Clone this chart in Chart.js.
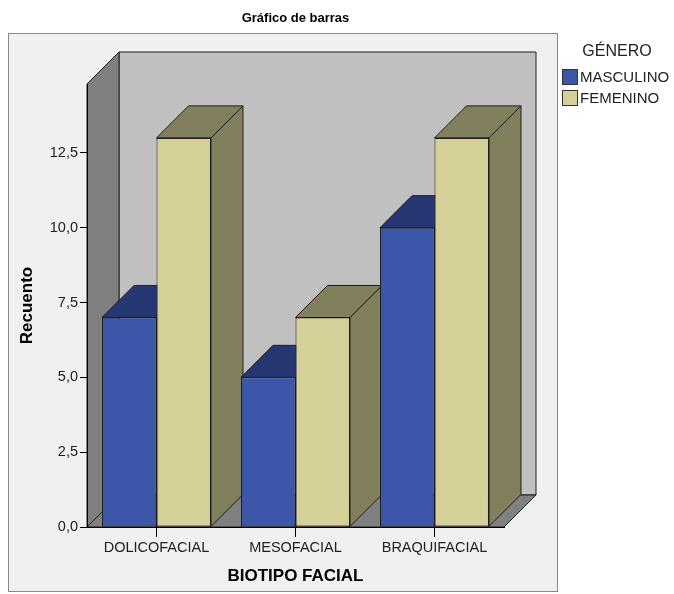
<!DOCTYPE html>
<html>
<head>
<meta charset="utf-8">
<script src="https://cdn.jsdelivr.net/npm/chart.js@4"></script>
<style>
  html, body { margin: 0; padding: 0; background: #fff; }
  canvas { display: block; }
</style>
</head>
<body>
<canvas id="grafico" width="674" height="594"></canvas>
<script>
// datos del gráfico
const categorias = ['DOLICOFACIAL', 'MESOFACIAL', 'BRAQUIFACIAL'];
const masculino = [7, 5, 10];
const femenino = [13, 7, 13];
const ticksY = [0, 2.5, 5, 7.5, 10, 12.5];
const maxY = 14.8;
const tituloLeyenda = 'GÉNERO';

// profundidad del efecto 3D (px)
const DX = 32, DY = 32;
const fuente = '"Liberation Sans", Arial, sans-serif';
Chart.defaults.font.family = fuente;

// colores de tapa y lateral para cada serie
const caras = [
  { tapa: '#263773', lado: '#263773' },
  { tapa: '#827f5c', lado: '#827f5c' }
];

function poligono(ctx, pts, relleno) {
  ctx.beginPath();
  ctx.moveTo(pts[0][0], pts[0][1]);
  for (let i = 1; i < pts.length; i++) ctx.lineTo(pts[i][0], pts[i][1]);
  ctx.closePath();
  ctx.fillStyle = relleno;
  ctx.fill();
  ctx.strokeStyle = '#1e1e1e';
  ctx.lineWidth = 1;
  ctx.stroke();
}

// fondo, marco y paredes
const fondo3d = {
  id: 'fondo3d',
  beforeDraw(chart) {
    const { ctx, chartArea: a } = chart;
    ctx.save();
    ctx.fillStyle = '#fff';
    ctx.fillRect(0, 0, chart.width, chart.height);
    ctx.fillStyle = '#f0f0f0';
    ctx.fillRect(8.5, 33.5, 549, 558);
    ctx.strokeStyle = '#8a8a8a';
    ctx.lineWidth = 1;
    ctx.strokeRect(8.5, 33.5, 549, 558);

    // pared del fondo
    poligono(ctx, [[a.left + DX, a.top - DY], [a.right + DX, a.top - DY],
      [a.right + DX, a.bottom - DY], [a.left + DX, a.bottom - DY]], '#c0c0c0');
    // pared izquierda
    poligono(ctx, [[a.left, a.top], [a.left + DX, a.top - DY],
      [a.left + DX, a.bottom - DY], [a.left, a.bottom]], '#808080');
    // suelo
    poligono(ctx, [[a.left, a.bottom], [a.left + DX, a.bottom - DY],
      [a.right + DX, a.bottom - DY], [a.right, a.bottom]], '#808080');
    ctx.restore();
  },
  // laterales y tapas de las barras, de izquierda a derecha
  beforeDatasetsDraw(chart) {
    const ctx = chart.ctx;
    ctx.save();
    for (let i = 0; i < chart.data.labels.length; i++) {
      chart.data.datasets.forEach(function(ds, d) {
        const barra = chart.getDatasetMeta(d).data[i];
        const { x, y, base, width } = barra.getProps(['x', 'y', 'base', 'width'], true);
        const l = x - width / 2, r = x + width / 2;
        poligono(ctx, [[r, y], [r + DX, y - DY], [r + DX, base - DY], [r, base]], caras[d].lado);
        poligono(ctx, [[l, y], [l + DX, y - DY], [r + DX, y - DY], [r, y]], caras[d].tapa);
      });
    }
    ctx.restore();
  }
};

// leyenda a la derecha
const leyenda = {
  id: 'leyenda',
  afterDraw(chart) {
    const ctx = chart.ctx;
    ctx.save();
    ctx.textBaseline = 'middle';
    ctx.fillStyle = '#222';
    ctx.textAlign = 'center';
    ctx.font = '16px ' + fuente;
    ctx.fillText(tituloLeyenda, 617, 52);
    ctx.textAlign = 'left';
    ctx.font = '15px ' + fuente;
    chart.data.datasets.forEach(function(ds, d) {
      const y = 69 + d * 21;
      ctx.fillStyle = ds.backgroundColor;
      ctx.fillRect(562, y, 16, 16);
      ctx.strokeStyle = '#333';
      ctx.lineWidth = 1;
      ctx.strokeRect(562.5, y + 0.5, 15, 15);
      ctx.fillStyle = '#222';
      ctx.fillText(ds.label, 580, y + 9);
    });
    ctx.restore();
  }
};

new Chart(document.getElementById('grafico'), {
  type: 'bar',
  data: {
    labels: categorias,
    datasets: [
      { label: 'MASCULINO', data: masculino, backgroundColor: '#3c56aa',
        borderColor: '#1e1e1e', borderWidth: 1, borderSkipped: false },
      { label: 'FEMENINO', data: femenino, backgroundColor: '#d5cf98',
        borderColor: '#1e1e1e', borderWidth: 1, borderSkipped: false }
    ]
  },
  options: {
    responsive: false,
    animation: false,
    devicePixelRatio: 1,
    categoryPercentage: 0.784,
    barPercentage: 1,
    layout: { padding: { left: 0, right: 170, top: 0, bottom: 0 } },
    plugins: {
      legend: { display: false },
      tooltip: { enabled: false },
      title: {
        display: true,
        text: 'Gráfico de barras',
        fullSize: false,
        color: '#000',
        font: { size: 13, weight: 'bold' },
        padding: { top: 10.2, bottom: 58.2 }
      }
    },
    scales: {
      x: {
        grid: { offset: false, drawOnChartArea: false, tickLength: 10, color: '#000' },
        border: { color: '#000' },
        ticks: { color: '#222', font: { size: 14.5 }, padding: 2 },
        title: { display: true, text: 'BIOTIPO FACIAL', color: '#000',
          font: { size: 17, weight: 'bold' }, padding: { bottom: 7 } },
        afterFit(s) { s.height = 67; }
      },
      y: {
        min: 0,
        max: maxY,
        afterBuildTicks(s) { s.ticks = ticksY.map(v => ({ value: v })); },
        grid: { drawOnChartArea: false, tickLength: 7, color: '#000' },
        border: { color: '#000' },
        ticks: { color: '#222', font: { size: 14.5 }, padding: 2,
          callback: v => v.toFixed(1).replace('.', ',') },
        title: { display: true, text: 'Recuento', color: '#000',
          font: { size: 17, weight: 'bold' }, padding: { top: 17 } },
        afterFit(s) { s.width = 87; }
      }
    }
  },
  plugins: [fondo3d, leyenda]
});
</script>
</body>
</html>
